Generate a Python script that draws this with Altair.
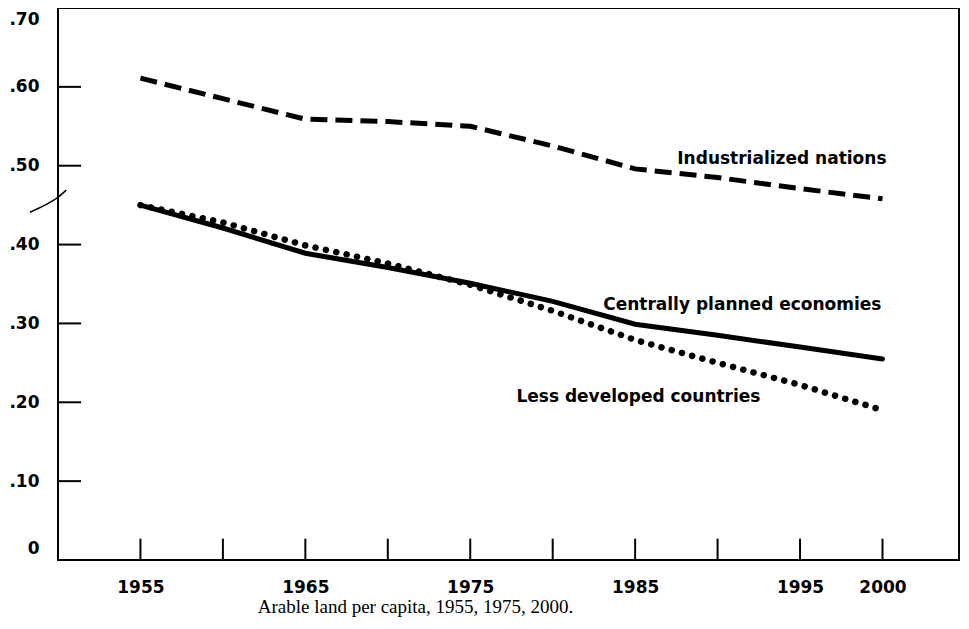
import altair as alt
import pandas as pd

# ---- data ----
years = [1955, 1960, 1965, 1970, 1975, 1980, 1985, 1990, 1995, 2000]
industrialized = [0.611, 0.585, 0.559, 0.556, 0.550, 0.525, 0.496, 0.485, 0.471, 0.458]
centrally_planned = [0.450, 0.421, 0.389, 0.371, 0.351, 0.328, 0.299, 0.285, 0.270, 0.255]
less_developed = [0.450, 0.428, 0.399, 0.376, 0.349, 0.316, 0.279, 0.250, 0.222, 0.190]

x_label_years = [1955, 1965, 1975, 1985, 1995, 2000]
y_ticks = [0, 0.1, 0.2, 0.3, 0.4, 0.5, 0.6, 0.7]

label_texts = ["Industrialized nations", "Centrally planned economies", "Less developed countries"]
label_x = [1993.9, 1991.5, 1985.2]
label_y = [0.509, 0.323, 0.207]

break_x = [1948.3, 1949.2, 1950.0, 1950.5]
break_y = [0.441, 0.450, 0.460, 0.469]

caption = "Arable land per capita, 1955, 1975, 2000."

FONT = "DejaVu Sans"

rows = []
for name, vals in [("Industrialized nations", industrialized),
                   ("Centrally planned economies", centrally_planned),
                   ("Less developed countries", less_developed)]:
    for yr, v in zip(years, vals):
        rows.append({"year": yr, "value": v, "series": name})
df = pd.DataFrame(rows)

xscale = alt.Scale(domain=[1950, 2004.64], nice=False, zero=False)
yscale = alt.Scale(domain=[0, 0.7], nice=False, zero=True)

xaxis = alt.Axis(values=x_label_years, format="d", title=None, labelFont=FONT,
                 labelFontWeight="bold", labelFontSize=17, labelColor="black",
                 labelPadding=19, ticks=False, domain=False, grid=False)
yaxis = alt.Axis(values=y_ticks, title=None, labelFont=FONT, labelFontWeight="bold",
                 labelFontSize=17, labelColor="black", labelPadding=19,
                 ticks=False, domain=False, grid=False, labelFlush=True, labelFlushOffset=-3,
                 labelExpr="datum.value == 0 ? '0' : replace(format(datum.value, '.2f'), '0.', '.')")


def X(f):
    return alt.X(f, scale=xscale, axis=xaxis, title=None)


def Y(f):
    return alt.Y(f, scale=yscale, axis=yaxis, title=None)


base = alt.Chart(df)

ind = base.transform_filter(alt.datum.series == "Industrialized nations").mark_line(
    color="black", strokeWidth=5, strokeDash=[17, 8]
).encode(x=X("year:Q"), y=Y("value:Q"))

cpe = base.transform_filter(alt.datum.series == "Centrally planned economies").mark_line(
    color="black", strokeWidth=5, strokeCap="round"
).encode(x=X("year:Q"), y=Y("value:Q"))

ldc = base.transform_filter(alt.datum.series == "Less developed countries").mark_line(
    color="black", strokeWidth=6.5, strokeDash=[0.1, 10.5], strokeCap="round"
).encode(x=X("year:Q"), y=Y("value:Q"))

# inward ticks
xt = pd.DataFrame({"year": years, "y0": [0.0] * len(years), "y1": [0.027] * len(years)})
xticks = alt.Chart(xt).mark_rule(color="black", strokeWidth=2).encode(
    x=X("year:Q"), y=Y("y0:Q"), y2="y1:Q")

yt = pd.DataFrame({"v": y_ticks[1:-1], "x0": [1950.0] * 6, "x1": [1951.4] * 6})
yticks = alt.Chart(yt).mark_rule(color="black", strokeWidth=2).encode(
    y=Y("v:Q"), x=X("x0:Q"), x2="x1:Q")

# axis break mark
bk = pd.DataFrame({"x": break_x, "y": break_y})
brk = alt.Chart(bk).mark_line(color="black", strokeWidth=1.5, clip=False, interpolate="monotone").encode(
    x=X("x:Q"), y=Y("y:Q"))

lab = pd.DataFrame({"text": label_texts, "x": label_x, "y": label_y})
labels = alt.Chart(lab).mark_text(font=FONT, fontWeight="bold", fontSize=17, color="black",
                                  align="center", baseline="middle").encode(
    x=X("x:Q"), y=Y("y:Q"), text="text:N")

chart = alt.layer(ind, cpe, ldc, xticks, yticks, brk, labels).properties(
    width=901, height=552,
    autosize=alt.AutoSizeParams(type="none"),
    padding={"left": 50, "top": 0, "right": 2, "bottom": 60},
    title=alt.TitleParams(caption, orient="bottom", anchor="middle", font="Liberation Serif",
                          fontSize=19, fontWeight="normal", color="black", dx=-93, offset=3),
    background="white",
).configure_view(stroke="black", strokeWidth=2)

chart.save("out.html", embed_options={"renderer": "svg", "actions": False})
